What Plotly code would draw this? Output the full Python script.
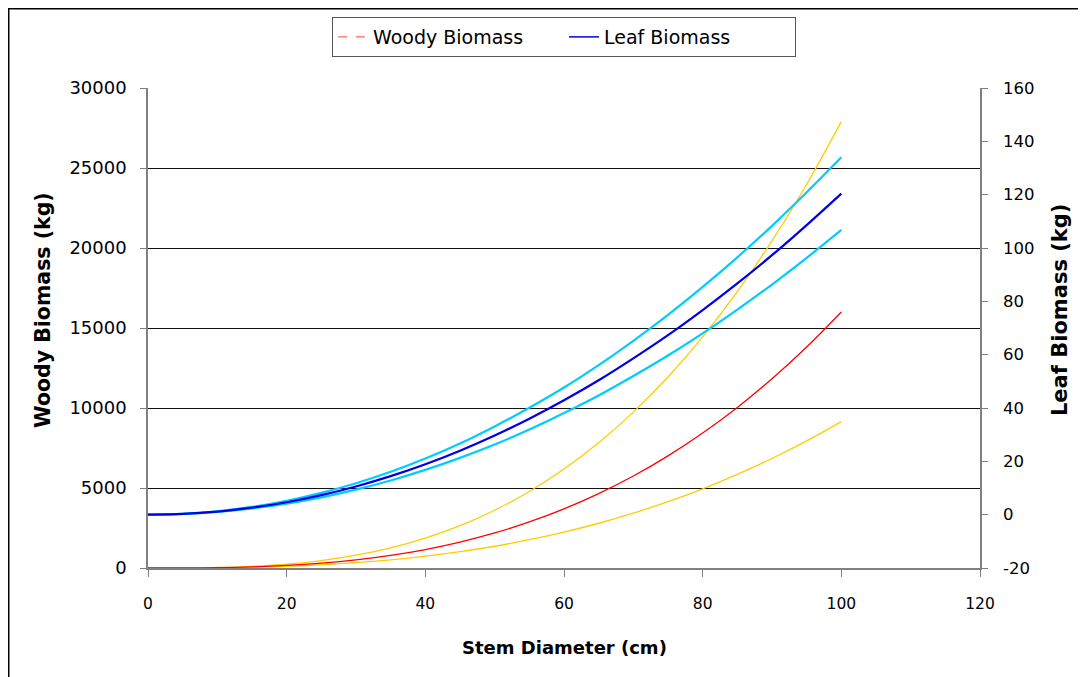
import plotly.graph_objects as go

diameter = [0, 5, 10, 15, 20, 25, 30, 35, 40, 45, 50, 55, 60, 65, 70, 75, 80, 85, 90, 95, 100]

woody = [0, 2.9, 21.6, 69, 158, 299, 505, 786, 1153, 1618, 2189, 2877, 3694, 4648,
         5747, 7007, 8434, 10037, 11824, 13810, 16000]
woody_upper = [0, 4.0, 31, 104, 242, 467, 800, 1261, 1870, 2645, 3611, 4782, 6183, 7829,
               9743, 11941, 14447, 17276, 20445, 23983, 27900]
woody_lower = [0, 2.4, 16, 50, 109, 202, 334, 510, 736, 1018, 1360, 1767, 2244, 2797,
               3429, 4146, 4951, 5849, 6844, 7941, 9145]

leaf = [0, 0.28, 1.15, 2.61, 4.66, 7.32, 10.58, 14.44, 18.92, 24.0, 29.7, 36.0, 42.9, 50.4,
        58.6, 67.3, 76.7, 86.7, 97.3, 108.6, 120.4]
leaf_upper = [0, 0.31, 1.28, 2.90, 5.19, 8.15, 11.78, 16.07, 21.06, 26.7, 33.1, 40.1, 47.7,
              56.1, 65.2, 74.9, 85.4, 96.5, 108.3, 120.9, 134.0]
leaf_lower = [0, 0.25, 1.02, 2.32, 4.13, 6.49, 9.38, 12.81, 16.78, 21.3, 26.3, 31.9, 38.1,
              44.7, 52.0, 59.7, 68.0, 76.9, 86.3, 96.3, 106.8]

x_ticks = [0, 20, 40, 60, 80, 100, 120]
woody_ticks = [0, 5000, 10000, 15000, 20000, 25000, 30000]
leaf_ticks = [-20, 0, 20, 40, 60, 80, 100, 120, 140, 160]

FONT = "DejaVu Sans, Liberation Sans, sans-serif"
RED = "#FF0000"
YELLOW = "#FFCC00"
BLUE = "#0000E6"
CYAN = "#00CCFF"
AXIS = "#808080"

fig = go.Figure()

fig.add_trace(go.Scatter(x=diameter, y=woody_upper, mode="lines", line=dict(color=YELLOW, width=1.3, shape="spline"),
                         showlegend=False, yaxis="y"))
fig.add_trace(go.Scatter(x=diameter, y=woody_lower, mode="lines", line=dict(color=YELLOW, width=1.3, shape="spline"),
                         showlegend=False, yaxis="y"))
fig.add_trace(go.Scatter(x=diameter, y=woody, mode="lines", line=dict(color=RED, width=1.3, shape="spline"),
                         showlegend=False, yaxis="y"))

fig.add_trace(go.Scatter(x=diameter, y=leaf_upper, mode="lines", line=dict(color=CYAN, width=2.2, shape="spline"),
                         showlegend=False, yaxis="y2"))
fig.add_trace(go.Scatter(x=diameter, y=leaf_lower, mode="lines", line=dict(color=CYAN, width=2.2, shape="spline"),
                         showlegend=False, yaxis="y2"))
fig.add_trace(go.Scatter(x=diameter, y=leaf, mode="lines", line=dict(color=BLUE, width=2.2, shape="spline"),
                         showlegend=False, yaxis="y2"))

fig.add_trace(go.Scatter(x=[None], y=[None], mode="lines", name="Woody Biomass",
                         line=dict(color="#FF6666", width=1.3, dash="dash"), yaxis="y"))
fig.add_trace(go.Scatter(x=[None], y=[None], mode="lines", name="Leaf Biomass",
                         line=dict(color=BLUE, width=1.5), yaxis="y2"))

fig.update_layout(
    width=1078, height=669,
    margin=dict(l=140, r=106, t=80, b=109, autoexpand=False),
    paper_bgcolor="white", plot_bgcolor="white",
    font=dict(family=FONT, size=17, color="black"),
    showlegend=True,
    legend=dict(orientation="h", x=0.5, xanchor="center", yref="container", y=0.9865, yanchor="top",
                bordercolor="#555555", borderwidth=1, bgcolor="white", entrywidth=186,
                font=dict(family=FONT, size=19), tracegroupgap=0),
    xaxis=dict(range=[0, 120], tickvals=x_ticks, ticktext=[str(v) for v in x_ticks],
               ticks="outside", ticklen=7, tickcolor=AXIS, ticklabelstandoff=14,
               showline=True, linecolor=AXIS, linewidth=1.5, showgrid=False, zeroline=False,
               tickfont=dict(family=FONT, size=15.5)),
    yaxis=dict(range=[0, 30000], tickvals=woody_ticks, ticktext=[str(v) for v in woody_ticks],
               ticks="outside", ticklen=6, tickcolor=AXIS, ticklabelstandoff=10,
               showline=True, linecolor=AXIS, linewidth=1.5,
               showgrid=True, gridcolor="#111111", gridwidth=1, zeroline=False,
               tickfont=dict(family=FONT, size=18)),
    yaxis2=dict(range=[-20, 160], tickvals=leaf_ticks, ticktext=[str(v) for v in leaf_ticks],
                overlaying="y", side="right", ticks="outside", ticklen=6, tickcolor=AXIS, ticklabelstandoff=12,
                showline=True, linecolor=AXIS, linewidth=1.5, showgrid=False, zeroline=False,
                tickfont=dict(family=FONT, size=16.5)),
    annotations=[
        dict(text="<b>Stem Diameter (cm)</b>", xref="paper", yref="paper", x=0.5, y=-0.1646,
             xanchor="center", yanchor="middle", showarrow=False, font=dict(family=FONT, size=18)),
        dict(text="<b>Woody Biomass (kg)</b>", xref="paper", yref="paper", x=-0.1262, y=0.5375,
             xanchor="center", yanchor="middle", textangle=-90, showarrow=False,
             font=dict(family=FONT, size=20.5)),
        dict(text="<b>Leaf Biomass (kg)</b>", xref="paper", yref="paper", x=1.0962, y=0.5375,
             xanchor="center", yanchor="middle", textangle=-90, showarrow=False,
             font=dict(family=FONT, size=21)),
    ],
    shapes=[dict(type="rect", xref="paper", yref="paper", x0=-0.1677, x1=1.119, y0=-0.35, y1=1.1657,
                 line=dict(color="black", width=2), fillcolor="rgba(0,0,0,0)", layer="below")],
)

fig.write_html("out.html")
